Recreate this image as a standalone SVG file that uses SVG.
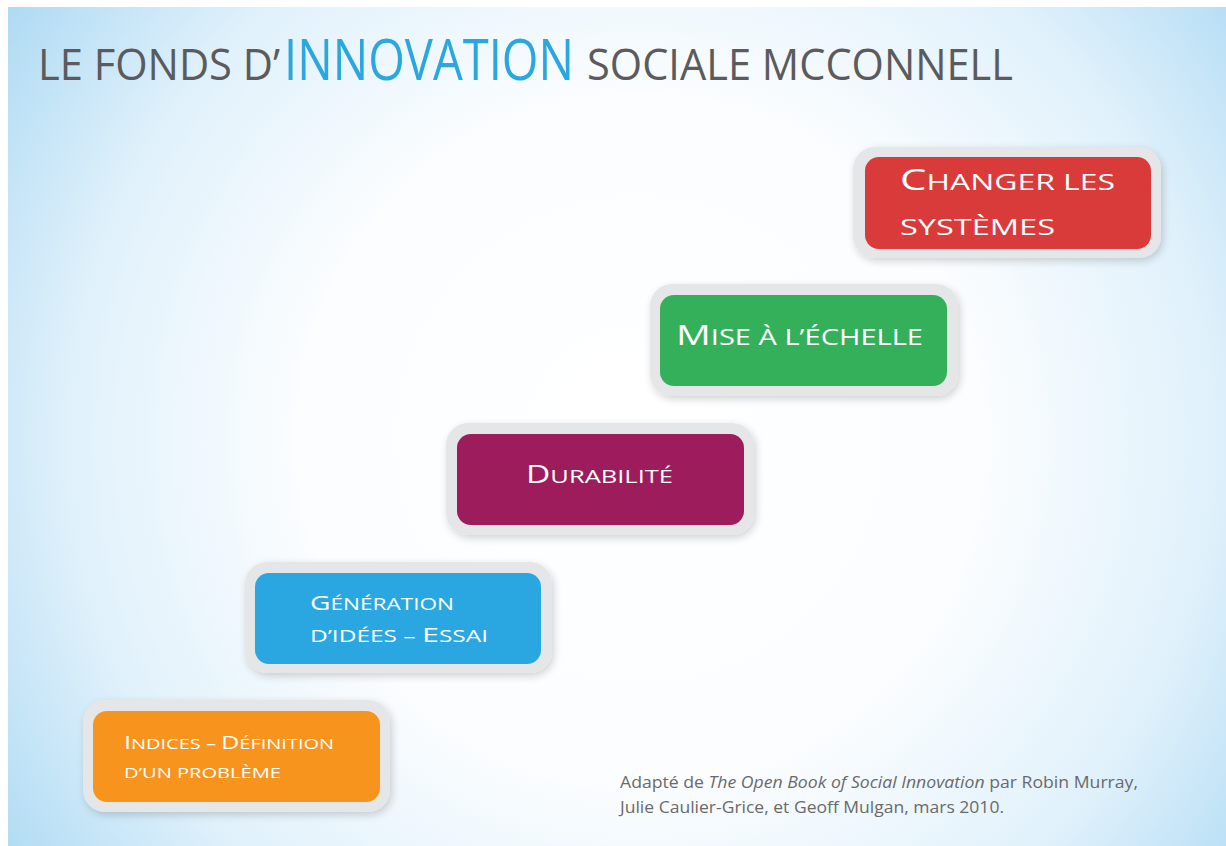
<svg xmlns="http://www.w3.org/2000/svg" width="1226" height="846" viewBox="0 0 1226 846">
  <defs>
    <radialGradient id="bg" gradientUnits="userSpaceOnUse" cx="640" cy="440" r="760">
      <stop offset="0" stop-color="#ffffff"/>
      <stop offset="0.45" stop-color="#fbfdff"/>
      <stop offset="0.75" stop-color="#e0f1fb"/>
      <stop offset="1" stop-color="#b0dbf4"/>
    </radialGradient>
    <filter id="sh" x="-10%" y="-15%" width="125%" height="140%">
      <feGaussianBlur in="SourceAlpha" stdDeviation="4"/>
      <feOffset dx="2" dy="3" result="b"/>
      <feComponentTransfer><feFuncA type="linear" slope="0.18"/></feComponentTransfer>
      <feMerge><feMergeNode/><feMergeNode in="SourceGraphic"/></feMerge>
    </filter>
  </defs>
  <style>
    .frame { fill: #e5e6e7; filter: url(#sh); }
    .lbl { font-family: "Open Sans", "Liberation Sans", sans-serif; fill: #ffffff; font-weight: 500; }
    .title { font-family: "Open Sans", "Liberation Sans", sans-serif; fill: #5b5b5d; }
    .note { font-family: "Open Sans", "Liberation Sans", sans-serif; fill: #6a6a6a; font-size: 16px; }
  </style>
  <rect x="0" y="0" width="1226" height="846" fill="#ffffff"/>
  <rect x="8" y="7" width="1218" height="839" fill="url(#bg)"/>

  <g id="title">
    <text class="title" x="38" y="80" font-size="44" textLength="242" lengthAdjust="spacingAndGlyphs">LE FONDS D’</text>
    <text class="title" x="284" y="80" font-size="56" style="fill:#2aa7df" textLength="290" lengthAdjust="spacingAndGlyphs">INNOVATION</text>
    <text class="title" x="587" y="80" font-size="44" textLength="426" lengthAdjust="spacingAndGlyphs">SOCIALE MCCONNELL</text>
  </g>

  <g id="connectors"></g>

  <g id="node-changer">
    <rect class="frame" x="853" y="147" width="308" height="111" rx="22"/>
    <rect x="865" y="157" width="286" height="92" rx="14" fill="#d83b3a"/>
    <text class="lbl" x="900" y="190" textLength="215" lengthAdjust="spacingAndGlyphs"><tspan font-size="29">C</tspan><tspan font-size="22">HANGER LES</tspan></text>
    <text class="lbl" x="900" y="235" font-size="22" textLength="155" lengthAdjust="spacingAndGlyphs">SYSTÈMES</text>
  </g>

  <g id="node-echelle">
    <rect class="frame" x="650" y="284" width="308" height="112" rx="22"/>
    <rect x="660" y="295" width="287" height="91" rx="14" fill="#35b05a"/>
    <text class="lbl" x="676" y="345" textLength="247" lengthAdjust="spacingAndGlyphs"><tspan font-size="28">M</tspan><tspan font-size="21">ISE À L’ÉCHELLE</tspan></text>
  </g>

  <g id="node-durabilite">
    <rect class="frame" x="446" y="423" width="308" height="112" rx="22"/>
    <rect x="457" y="434" width="287" height="91" rx="14" fill="#9c1c5c"/>
    <text class="lbl" x="526" y="483" textLength="147" lengthAdjust="spacingAndGlyphs"><tspan font-size="25">D</tspan><tspan font-size="19">URABILITÉ</tspan></text>
  </g>

  <g id="node-generation">
    <rect class="frame" x="245" y="562" width="307" height="111" rx="22"/>
    <rect x="255" y="573" width="286" height="91" rx="14" fill="#2aa7e0"/>
    <text class="lbl" x="310" y="610" textLength="144" lengthAdjust="spacingAndGlyphs"><tspan font-size="20">G</tspan><tspan font-size="16">ÉNÉRATION</tspan></text>
    <text class="lbl" x="310" y="642" textLength="178" lengthAdjust="spacingAndGlyphs"><tspan font-size="16">D’IDÉES – </tspan><tspan font-size="20">E</tspan><tspan font-size="16">SSAI</tspan></text>
  </g>

  <g id="node-indices">
    <rect class="frame" x="83" y="700" width="307" height="112" rx="22"/>
    <rect x="93" y="711" width="287" height="91" rx="14" fill="#f7941e"/>
    <text class="lbl" x="124" y="749" textLength="210" lengthAdjust="spacingAndGlyphs"><tspan font-size="19">I</tspan><tspan font-size="15">NDICES – </tspan><tspan font-size="19">D</tspan><tspan font-size="15">ÉFINITION</tspan></text>
    <text class="lbl" x="124" y="778" font-size="15" textLength="157" lengthAdjust="spacingAndGlyphs">D’UN PROBLÈME</text>
  </g>

  <g id="footnote">
    <text class="note" x="620" y="788" textLength="518" lengthAdjust="spacingAndGlyphs">Adapté de <tspan font-style="italic">The Open Book of Social Innovation</tspan> par Robin Murray,</text>
    <text class="note" x="620" y="813" textLength="384" lengthAdjust="spacingAndGlyphs">Julie Caulier-Grice, et Geoff Mulgan, mars 2010.</text>
  </g>
</svg>
